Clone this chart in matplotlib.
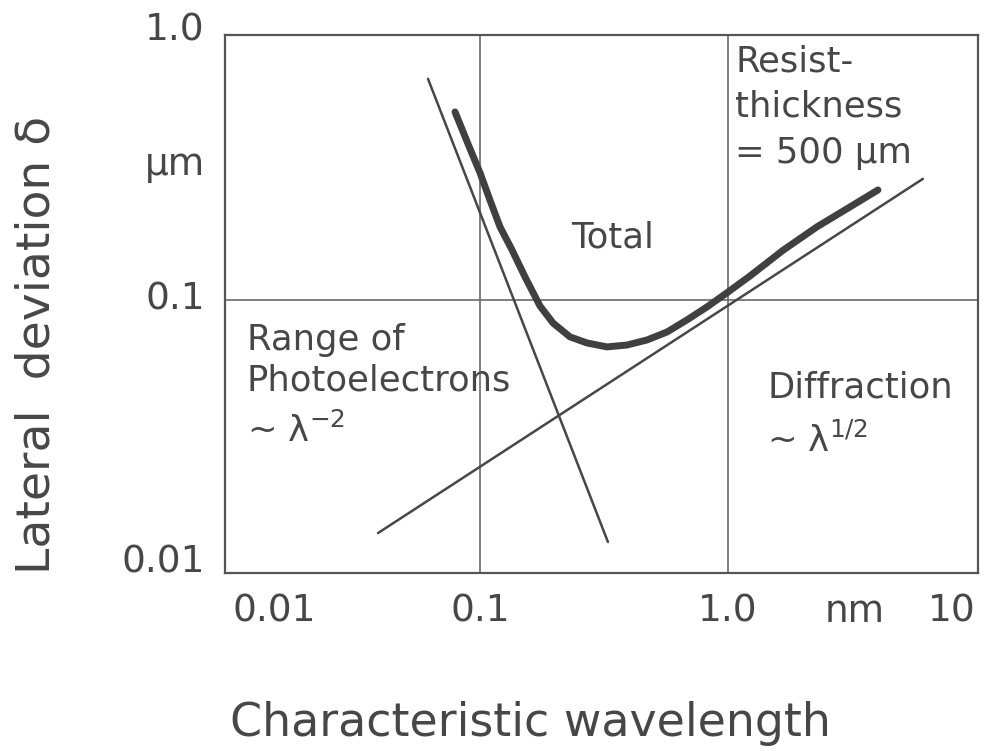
import matplotlib
matplotlib.use("Agg")
import matplotlib.pyplot as plt
from matplotlib.transforms import blended_transform_factory

plt.rcParams['font.family'] = ['DejaVu Sans']
plt.rcParams['mathtext.fontset'] = 'dejavusans'

# values (wavelength in nm, deviation in um)
total_x = [0.0793, 0.0895, 0.100, 0.1097, 0.1204, 0.1346, 0.1519, 0.1745,
           0.1970, 0.2306, 0.2701, 0.3251, 0.3915, 0.4715, 0.5675,
           0.6834, 0.8228, 1.00, 1.227, 1.667, 2.285, 3.104, 4.025]
total_y = [0.500, 0.380, 0.297, 0.235, 0.187, 0.1535, 0.1218, 0.0950,
           0.0821, 0.0729, 0.0692, 0.0669, 0.0680, 0.0710, 0.0760,
           0.0843, 0.0942, 0.107, 0.1228, 0.153, 0.187, 0.2217, 0.2564]
photo_x = [0.0617, 0.328]
photo_y = [0.664, 0.0126]
diffr_x = [0.0388, 6.11]
diffr_y = [0.0136, 0.282]

grid_x = [0.1, 1.0]
grid_y = [0.1]

xtick_pos = [0.01, 0.1, 1.0, 3.25, 10]
xtick_labels = ['0.01', '0.1', '1.0', 'nm', '10']
xtick_ha = ['left', 'center', 'center', 'center', 'right']
ytick_pos = [1.0, 0.318, 0.1, 0.0106]
ytick_labels = ['1.0', 'µm', '0.1', '0.01']

ink = '#474747'

fig = plt.figure(figsize=(9.92, 7.51), dpi=100)
ax = fig.add_axes([225 / 992, 178 / 751, 753 / 992, 538 / 751])
ax.set_xscale('log')
ax.set_yscale('log')
ax.set_xlim(0.00937, 10.19)
ax.set_ylim(0.00966, 0.966)

for g in grid_x:
    ax.axvline(g, color='#6a6a6a', lw=1.2, zorder=1)
for g in grid_y:
    ax.axhline(g, color='#6a6a6a', lw=1.2, zorder=1)

ax.plot(photo_x, photo_y, color=ink, lw=1.8, solid_capstyle='round', zorder=2)
ax.plot(diffr_x, diffr_y, color=ink, lw=1.8, solid_capstyle='round', zorder=2)
ax.plot(total_x, total_y, color='#404040', lw=5, solid_capstyle='round',
        solid_joinstyle='round', zorder=3)

for s in ax.spines.values():
    s.set_linewidth(1.6)
    s.set_color('#555555')

ax.set_xticks([])
ax.set_yticks([])
ax.minorticks_off()
ax.tick_params(which='both', length=0, labelbottom=False, labelleft=False)

tx = blended_transform_factory(ax.transData, ax.transAxes)
for p, lab, ha in zip(xtick_pos, xtick_labels, xtick_ha):
    ax.text(p, -0.072, lab, transform=tx, ha=ha, va='center',
            fontsize=27, color=ink, clip_on=False)
ty = blended_transform_factory(ax.transAxes, ax.transData)
for p, lab in zip(ytick_pos, ytick_labels):
    ax.text(-0.027, p, lab, transform=ty, ha='right', va='center',
            fontsize=27, color=ink, clip_on=False)

ax.set_xlabel('Characteristic wavelength', fontsize=33, color=ink, va='center')
ax.xaxis.set_label_coords(0.406, -0.279)
ax.set_ylabel('Lateral  deviation δ', fontsize=34, color=ink, va='center')
ax.yaxis.set_label_coords(-0.250, 0.424)

fs = 25.5
ax.text(1.07, 0.767, 'Resist-', fontsize=fs, color=ink, ha='left', va='center')
ax.text(1.07, 0.522, 'thickness', fontsize=fs, color=ink, ha='left', va='center')
ax.text(1.07, 0.352, '= 500 µm', fontsize=fs, color=ink, ha='left', va='center')
ax.text(0.343, 0.170, 'Total', fontsize=fs, color=ink, ha='center', va='center')
ax.text(0.01148, 0.0710, 'Range of', fontsize=fs, color=ink, ha='left', va='center')
ax.text(0.01148, 0.0504, 'Photoelectrons', fontsize=fs, color=ink, ha='left', va='center')
ax.text(0.01148, 0.0326, '~ λ$^{-2}$', fontsize=fs, color=ink, ha='left', va='center')
ax.text(1.44, 0.0471, 'Diffraction', fontsize=fs, color=ink, ha='left', va='center')
ax.text(1.44, 0.0299, '~ λ$^{1/2}$', fontsize=fs, color=ink, ha='left', va='center')

fig.savefig('out.png', dpi=100, facecolor='white')
